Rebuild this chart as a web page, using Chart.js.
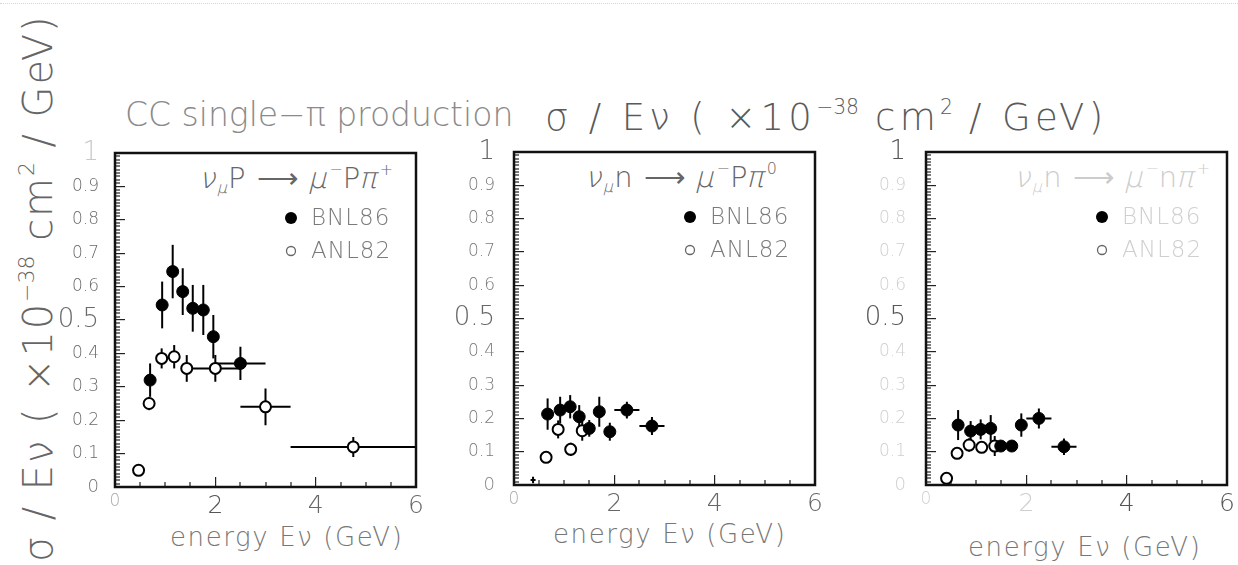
<!DOCTYPE html>
<html>
<head>
<meta charset="utf-8">
<script src="https://cdn.jsdelivr.net/npm/chart.js@4.4.1/dist/chart.umd.min.js"></script>
<style>
  body { margin:0; background:#fff; width:1238px; height:565px; position:relative; overflow:hidden;
         font-family:"DejaVu Sans", sans-serif; font-weight:200; }
  canvas { position:absolute; }
  .txt { position:absolute; white-space:nowrap; line-height:1; }
  .dots { position:absolute; left:0; top:3px; width:1238px; border-top:1px dotted #c9d6ee; }
  .rx { font-size:29px; letter-spacing:1px; }
  .g { display:inline-block; transform:skewX(-14deg); }
  .xt { font-size:26px; color:#777; letter-spacing:1.6px; }
  sup { font-size:55%; vertical-align:0.8em; letter-spacing:0; }
  sub { font-size:55%; vertical-align:-0.35em; letter-spacing:0; }
</style>
</head>
<body>
<div class="dots"></div>

<div class="txt" style="left:125px; top:98px; font-size:33px; color:#8a8a8a;">CC single−π production</div>
<div class="txt" style="left:545px; top:97px; font-size:37px; color:#5a5a5a; letter-spacing:4.3px;">σ / Eν ( ×10<sup>−38</sup> cm<sup>2</sup> / GeV)</div>
<div class="txt" style="left:16px; top:562px; font-size:40px; color:#666; letter-spacing:1.9px; transform-origin:0 0; transform:rotate(-90deg);">σ / Eν ( ×10<sup>−38</sup> cm<sup>2</sup> / GeV)</div>

<div class="txt rx" style="right:845px; top:162px; color:#666;"><span class="g">ν</span><sub class="g">μ</sub>P ⟶ <span class="g">μ</span><sup>−</sup>P<span class="g">π</span><sup>+</sup></div>
<div class="txt rx" style="right:461px; top:161px; color:#666;"><span class="g">ν</span><sub class="g">μ</sub>n ⟶ <span class="g">μ</span><sup>−</sup>P<span class="g">π</span><sup>0</sup></div>
<div class="txt rx" style="right:28px; top:161px; color:#ccc;"><span class="g">ν</span><sub class="g">μ</sub>n ⟶ <span class="g">μ</span><sup>−</sup>n<span class="g">π</span><sup>+</sup></div>

<div class="txt xt" style="left:170px; top:524px;">energy Eν (GeV)</div>
<div class="txt xt" style="left:553px; top:521px;">energy Eν (GeV)</div>
<div class="txt xt" style="left:968px; top:534px;">energy Eν (GeV)</div>

<canvas id="c1"></canvas>
<canvas id="c2"></canvas>
<canvas id="c3"></canvas>

<script>
// energies in GeV, sigma/E in 1e-38 cm^2/GeV
// panel 1: nu_mu p -> mu- p pi+
const p1BnlE    = [0.70, 0.94, 1.15, 1.35, 1.55, 1.76, 1.96, 2.50];
const p1BnlSig  = [0.32, 0.545, 0.645, 0.585, 0.535, 0.53, 0.45, 0.37];
const p1BnlErr  = [0.05, 0.07, 0.08, 0.07, 0.07, 0.075, 0.065, 0.05];
const p1BnlEErr = [0, 0, 0, 0, 0, 0, 0, 0.5];
const p1AnlE    = [0.47, 0.68, 0.93, 1.18, 1.43, 2.0, 3.0, 4.75];
const p1AnlSig  = [0.05, 0.25, 0.385, 0.39, 0.355, 0.355, 0.24, 0.12];
const p1AnlErr  = [0, 0.02, 0.03, 0.035, 0.04, 0.04, 0.055, 0.03];
const p1AnlEErr = [0, 0, 0, 0, 0, 0.5, 0.5, 1.25];

// panel 2: nu_mu n -> mu- p pi0
const p2BnlE    = [0.67, 0.92, 1.12, 1.30, 1.50, 1.70, 1.91, 2.25, 2.75];
const p2BnlSig  = [0.213, 0.225, 0.235, 0.205, 0.17, 0.22, 0.16, 0.225, 0.177];
const p2BnlErr  = [0.047, 0.04, 0.035, 0.035, 0.025, 0.045, 0.027, 0.025, 0.027];
const p2BnlEErr = [0, 0, 0, 0, 0, 0, 0, 0.25, 0.25];
const p2AnlE    = [0.38, 0.64, 0.88, 1.13, 1.36];
const p2AnlSig  = [0.015, 0.083, 0.167, 0.107, 0.163];
const p2AnlErr  = [0.01, 0, 0.027, 0.02, 0.03];
const p2AnlEErr = [0.05, 0, 0, 0, 0];
const p2AnlSize = [0, 5.5, 5.5, 5.5, 5.5];

// panel 3: nu_mu n -> mu- n pi+
const p3BnlE    = [0.64, 0.89, 1.09, 1.29, 1.49, 1.71, 1.90, 2.25, 2.75];
const p3BnlSig  = [0.18, 0.162, 0.167, 0.17, 0.117, 0.117, 0.18, 0.20, 0.115];
const p3BnlErr  = [0.045, 0.03, 0.03, 0.04, 0.01, 0.01, 0.035, 0.03, 0.025];
const p3BnlEErr = [0, 0, 0, 0, 0, 0, 0, 0.25, 0.25];
const p3AnlE    = [0.41, 0.62, 0.86, 1.11, 1.37];
const p3AnlSig  = [0.02, 0.095, 0.12, 0.113, 0.117];
const p3AnlErr  = [0, 0, 0.02, 0.01, 0.03];
const p3AnlEErr = [0, 0, 0, 0, 0];

const xTicks = [0, 2, 4, 6];
const yTicks = [0, 0.1, 0.2, 0.3, 0.4, 0.5, 0.6, 0.7, 0.8, 0.9, 1];

const FONT = "'DejaVu Sans', sans-serif";
const TOP_PAD = 52;
const TICK_IN = -10;   // negative tick length points the major ticks into the frame

function pts(e, s, ye, xe) {
  return e.map((v, i) => ({ x: v, y: s[i], ye: ye[i], xe: xe[i] }));
}

// minor inward ticks and error bars, drawn under the markers
const errorBars = {
  id: 'errorBars',
  beforeDatasetsDraw(chart) {
    const ctx = chart.ctx, area = chart.chartArea;
    const xs = chart.scales.x, ys = chart.scales.y;

    ctx.save();
    ctx.fillStyle = '#222';
    for (let k = 1; k < 100; k++) {
      if (k % 10 === 0) continue;
      const ty = ys.getPixelForValue(k / 100);
      ctx.fillRect(area.left, Math.round(ty) - 0.6, 5, 1.2);
    }
    for (let k = 1; k < 12; k++) {
      if (k % 4 === 0) continue;
      const tx = xs.getPixelForValue(k / 2);
      ctx.fillRect(Math.round(tx) - 0.6, area.bottom - 5, 1.2, 5);
    }
    ctx.restore();

    ctx.save();
    ctx.beginPath();
    ctx.rect(area.left, area.top, area.width, area.height);
    ctx.clip();
    ctx.strokeStyle = '#000';
    ctx.lineWidth = 2;
    chart.data.datasets.forEach(ds => {
      ds.data.forEach(p => {
        const px = xs.getPixelForValue(p.x), py = ys.getPixelForValue(p.y);
        ctx.beginPath();
        if (p.ye) {
          ctx.moveTo(px, ys.getPixelForValue(p.y - p.ye));
          ctx.lineTo(px, ys.getPixelForValue(p.y + p.ye));
        }
        if (p.xe) {
          ctx.moveTo(xs.getPixelForValue(p.x - p.xe), py);
          ctx.lineTo(xs.getPixelForValue(p.x + p.xe), py);
        }
        ctx.stroke();
      });
    });
    ctx.restore();
  }
};

// black frame
const boxFrame = {
  id: 'boxFrame',
  afterDatasetsDraw(chart) {
    const { ctx, chartArea: a } = chart;
    ctx.save();
    ctx.lineWidth = 2.5;
    ctx.strokeStyle = '#111';
    ctx.strokeRect(a.left, a.top, a.right - a.left, a.bottom - a.top);
    ctx.restore();
  }
};

// legend entries inside the frame
const legendBox = {
  id: 'legendBox',
  afterDraw(chart, args, opts) {
    const { ctx, chartArea: a } = chart;
    ctx.save();
    ctx.font = "200 23px " + FONT;
    ctx.letterSpacing = '1px';
    ctx.textBaseline = 'middle';
    chart.data.datasets.forEach((ds, i) => {
      const mx = a.left + 176, my = a.top + 65 + i * 33;
      ctx.beginPath();
      if (i === 0) {
        ctx.arc(mx, my, 6, 0, Math.PI * 2);
        ctx.fillStyle = '#000'; ctx.fill();
      } else {
        ctx.arc(mx, my, 4.5, 0, Math.PI * 2);
        ctx.lineWidth = 1.3; ctx.strokeStyle = '#666'; ctx.stroke();
      }
      ctx.fillStyle = opts.color;
      ctx.fillText(ds.label, a.left + 196, my + 1);
    });
    ctx.restore();
  }
};

function fmt(v) {
  const r = Math.round(v * 10) / 10;
  return r === 0 ? '0' : r === 1 ? '1' : r.toFixed(1);
}

function makePanel(id, f, sets, st) {
  const cx = f.l - 75, cy = f.t - TOP_PAD;
  const cv = document.getElementById(id);
  cv.width = f.r - cx + 24;
  cv.height = 565 - cy;
  cv.style.left = cx + 'px';
  cv.style.top = cy + 'px';
  const xh = 565 - f.b;

  return new Chart(cv, {
    type: 'scatter',
    data: {
      datasets: [
        { label: 'BNL86', data: sets.bnl, pointRadius: 6, pointBackgroundColor: '#000',
          pointBorderColor: '#000', pointBorderWidth: 1 },
        { label: 'ANL82', data: sets.anl, pointRadius: sets.anlSize || 5.5, pointBackgroundColor: '#fff',
          pointBorderColor: '#000', pointBorderWidth: 2 }
      ]
    },
    options: {
      responsive: false,
      animation: false,
      events: [],
      layout: { padding: { top: TOP_PAD, right: 24, left: 0, bottom: 0 } },
      plugins: {
        legend: { display: false },
        tooltip: { enabled: false },
        legendBox: { color: st.legend }
      },
      scales: {
        x: {
          type: 'linear', min: 0, max: 6,
          grid: { display: true, drawOnChartArea: false, drawTicks: true, tickLength: TICK_IN,
                  color: '#222', lineWidth: 1.2 },
          border: { display: false },
          afterBuildTicks: s => { s.ticks = xTicks.map(v => ({ value: v })); },
          ticks: {
            padding: 4 - TICK_IN, maxRotation: 0, autoSkip: false,
            callback: v => String(v),
            font: c => ({ family: FONT, weight: 200, size: c.tick && c.tick.value === 0 ? 17 : 25 }),
            color: c => st.x[xTicks.indexOf(c.tick.value)]
          },
          afterFit: s => { s.height = xh; }
        },
        y: {
          min: 0, max: 1,
          grid: { display: true, drawOnChartArea: false, drawTicks: true, tickLength: TICK_IN,
                  color: '#222', lineWidth: 1.2 },
          border: { display: false },
          afterBuildTicks: s => { s.ticks = yTicks.map(v => ({ value: v })); },
          ticks: {
            padding: st.pad - TICK_IN, autoSkip: false,
            callback: v => fmt(v),
            font: c => {
              const v = c.tick ? Math.round(c.tick.value * 10) : 0;
              return { family: FONT, weight: 200, size: (v === 5 || v === 10) ? 26 : (v === 0 ? 18 : 17) };
            },
            color: c => {
              const v = Math.round(c.tick.value * 10);
              return v === 10 ? st.y1 : v === 5 ? st.y5 : v === 0 ? st.y0 : st.y;
            }
          },
          afterFit: s => { s.width = 75; }
        }
      }
    },
    plugins: [errorBars, boxFrame, legendBox]
  });
}

makePanel('c1', { l: 115, t: 153, r: 416, b: 487 },
  { bnl: pts(p1BnlE, p1BnlSig, p1BnlErr, p1BnlEErr), anl: pts(p1AnlE, p1AnlSig, p1AnlErr, p1AnlEErr) },
  { pad: 16, y: '#6a6a6a', y5: '#6a6a6a', y1: '#c8c8c8', y0: '#777', x: ['#aaa', '#555', '#666', '#666'], legend: '#7a7a7a' });

makePanel('c2', { l: 514, t: 152, r: 815, b: 485 },
  { bnl: pts(p2BnlE, p2BnlSig, p2BnlErr, p2BnlEErr), anl: pts(p2AnlE, p2AnlSig, p2AnlErr, p2AnlEErr), anlSize: p2AnlSize },
  { pad: 19, y: '#7a7a7a', y5: '#666', y1: '#666', y0: '#888', x: ['#aaa', '#666', '#666', '#666'], legend: '#7a7a7a' });

makePanel('c3', { l: 926, t: 152, r: 1227, b: 485 },
  { bnl: pts(p3BnlE, p3BnlSig, p3BnlErr, p3BnlEErr), anl: pts(p3AnlE, p3AnlSig, p3AnlErr, p3AnlEErr) },
  { pad: 20, y: '#cfcfcf', y5: '#555', y1: '#555', y0: '#cfcfcf', x: ['#cfcfcf', '#cfcfcf', '#555', '#555'], legend: '#cfcfcf' });
</script>
</body>
</html>
